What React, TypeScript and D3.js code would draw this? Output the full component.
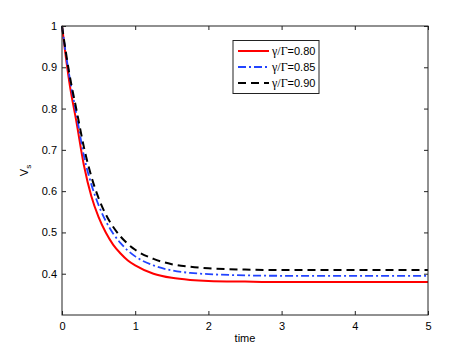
import React, { useEffect, useRef } from "react";
import * as d3 from "d3";

const time = [0, 0.05, 0.1, 0.2, 0.3, 0.4, 0.5, 0.6, 0.7, 0.8, 0.9, 1, 1.25, 1.5, 1.75, 2, 2.5, 3, 4, 5];
const vs080 = [1, 0.928, 0.864, 0.765, 0.662, 0.588, 0.537, 0.499, 0.47, 0.449, 0.432, 0.42, 0.4, 0.39, 0.385, 0.3825, 0.381, 0.38, 0.38, 0.38];
const vs085 = [1, 0.936, 0.88, 0.783, 0.685, 0.617, 0.566, 0.527, 0.497, 0.474, 0.456, 0.442, 0.42, 0.408, 0.402, 0.399, 0.396, 0.395, 0.395, 0.395];
const vs090 = [1, 0.94, 0.885, 0.795, 0.706, 0.636, 0.583, 0.543, 0.513, 0.49, 0.472, 0.458, 0.436, 0.423, 0.417, 0.413, 0.41, 0.409, 0.409, 0.409];
const ratios = ["0.80", "0.85", "0.90"];
const xTicks = [0, 1, 2, 3, 4, 5];
const yTicks = [0.4, 0.5, 0.6, 0.7, 0.8, 0.9, 1];

const W = 472;
const H = 354;
const left = 62;
const right = 428;
const top = 26;
const bottom = 315;
const font = "'Liberation Sans', Arial, sans-serif";

const styles = [
  { color: "#ff0000", width: 2, dash: null },
  { color: "#2244ff", width: 1.8, dash: "8,3,2,3" },
  { color: "#000000", width: 2, dash: "8,5" },
];

function App() {
  const ref = useRef<SVGSVGElement>(null);

  useEffect(() => {
    const svg = d3.select(ref.current);
    svg.selectAll("*").remove();

    const x = d3.scaleLinear().domain([0, 5]).range([left, right]);
    const y = d3.scaleLinear().domain([0.3, 1]).range([bottom, top]);

    const series = [vs080, vs085, vs090];
    const line = d3
      .line<number>()
      .x((v, i) => x(time[i]))
      .y((v) => y(v))
      .curve(d3.curveMonotoneX);

    svg
      .selectAll(".curve")
      .data(series)
      .join("path")
      .attr("class", "curve")
      .attr("d", (s) => line(s))
      .attr("fill", "none")
      .attr("stroke", (s, i) => styles[i].color)
      .attr("stroke-width", (s, i) => styles[i].width)
      .attr("stroke-dasharray", (s, i) => styles[i].dash);

    const fmt = (v: d3.NumberValue) => (+v === 1 ? "1" : (+v).toFixed(1));

    const xAxis = svg.append("g").attr("transform", `translate(0,${bottom})`)
      .call(d3.axisBottom(x).tickValues(xTicks).tickSize(-4).tickPadding(7).tickFormat(d3.format("d")));
    const xTop = svg.append("g").attr("transform", `translate(0,${top})`)
      .call(d3.axisTop(x).tickValues(xTicks).tickSize(-4).tickFormat(() => ""));
    const yAxis = svg.append("g").attr("transform", `translate(${left},0)`)
      .call(d3.axisLeft(y).tickValues(yTicks).tickSize(-4).tickPadding(5).tickFormat(fmt));
    const yRight = svg.append("g").attr("transform", `translate(${right},0)`)
      .call(d3.axisRight(y).tickValues(yTicks).tickSize(-4).tickFormat(() => ""));

    [xAxis, xTop, yAxis, yRight].forEach((g) => {
      g.select(".domain").remove();
      g.selectAll("line").attr("stroke", "#222");
      g.selectAll("text").attr("font-family", font).attr("font-size", 11).attr("fill", "#000");
    });

    svg.append("rect")
      .attr("x", left).attr("y", top)
      .attr("width", right - left).attr("height", bottom - top)
      .attr("fill", "none").attr("stroke", "#222").attr("stroke-width", 1);

    svg.append("text")
      .attr("x", (left + right) / 2).attr("y", 342)
      .attr("text-anchor", "middle")
      .attr("font-family", font).attr("font-size", 11)
      .text("time");

    const yl = svg.append("text")
      .attr("transform", `translate(28,${(top + bottom) / 2}) rotate(-90)`)
      .attr("text-anchor", "middle")
      .attr("font-family", font).attr("font-size", 11);
    yl.append("tspan").text("V");
    yl.append("tspan").attr("dy", 3).attr("font-size", 8).text("s");

    // legend
    const lg = svg.append("g");
    lg.append("rect")
      .attr("x", 233).attr("y", 40.5).attr("width", 86).attr("height", 53)
      .attr("fill", "#fff").attr("stroke", "#222").attr("stroke-width", 1);
    ratios.forEach((r, i) => {
      const yy = 51 + i * 16;
      lg.append("line")
        .attr("x1", 238).attr("x2", 269).attr("y1", yy).attr("y2", yy)
        .attr("stroke", styles[i].color).attr("stroke-width", styles[i].width)
        .attr("stroke-dasharray", styles[i].dash);
      const t = lg.append("text")
        .attr("x", 272).attr("y", yy + 4)
        .attr("font-size", 11).attr("font-family", font);
      t.append("tspan").attr("font-family", "'Liberation Serif', 'Times New Roman', serif").attr("font-size", 12).text("γ/Γ");
      t.append("tspan").text("=" + r);
    });
  }, []);

  return (
    <svg
      ref={ref}
      width={W}
      height={H}
      style={{ position: "absolute", left: 0, top: 0, background: "#fff" }}
    />
  );
}

export default App;
